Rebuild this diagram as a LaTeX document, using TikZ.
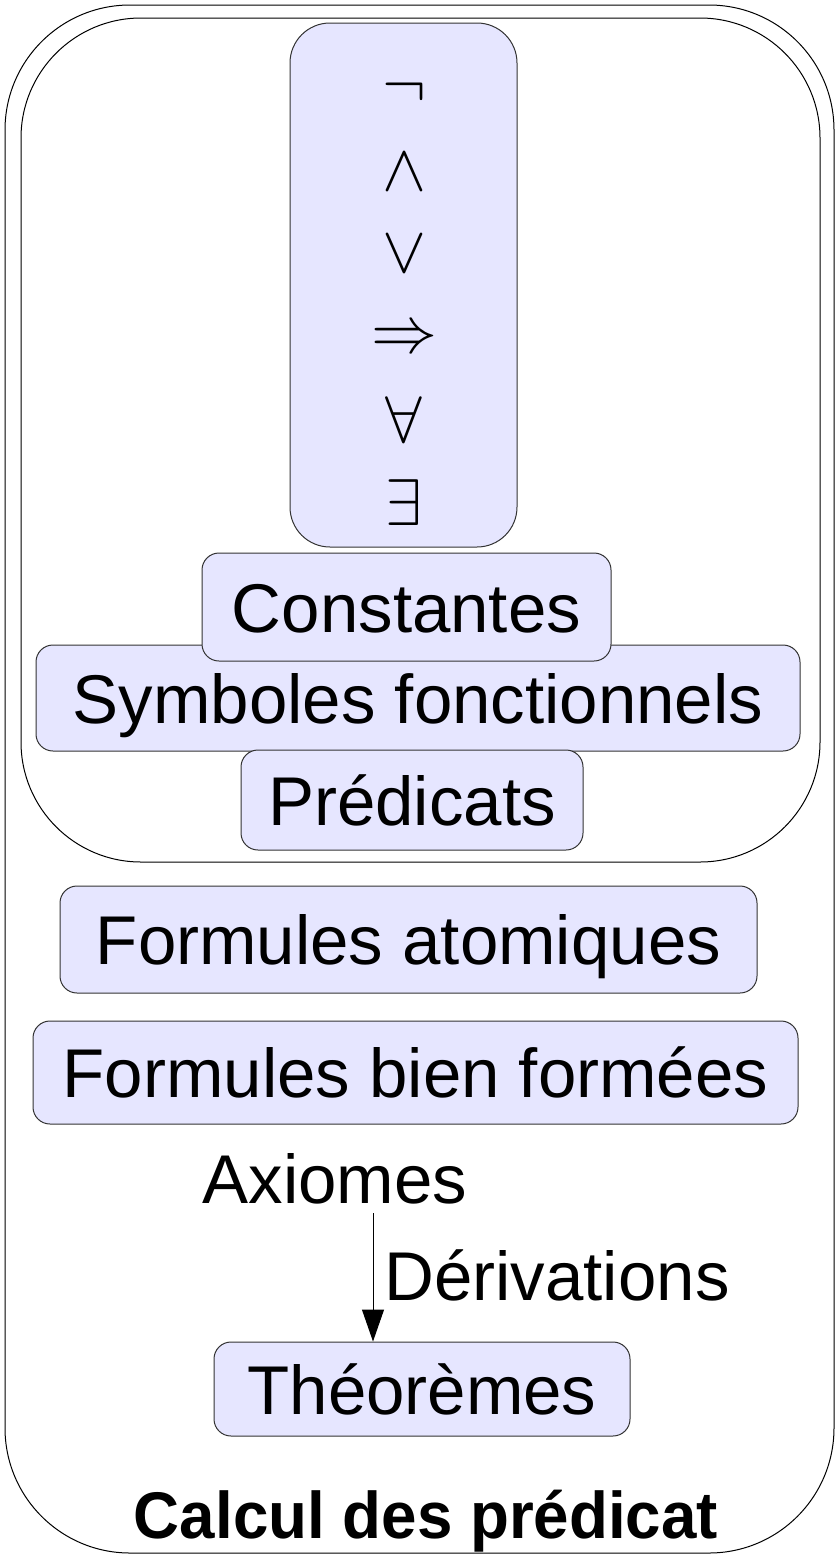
\documentclass[tikz,border=0pt]{standalone}
\usepackage{fontspec}
\setmainfont{Liberation Sans}
\usetikzlibrary{arrows.meta}
\definecolor{boxfill}{HTML}{E6E6FF}
\definecolor{boxline}{HTML}{333333}
\newcommand{\bigsym}[1]{\scalebox{6.6}{$#1$}}
\tikzset{
  frame/.style={draw=black, line width=1pt, rounded corners=125pt},
  pbox/.style={draw=boxline, fill=boxfill, line width=1pt, rounded corners=17pt,
    inner sep=0pt, text height=50pt, text depth=0pt,
    font=\fontsize{69}{80}\selectfont},
  plain/.style={inner sep=0pt, text height=50pt, text depth=0pt,
    font=\fontsize{69}{80}\selectfont},
  sym/.style={inner sep=0pt},
  link/.style={line width=1pt, -{Triangle[length=32pt,width=22pt]}}
}
\begin{document}
\begin{tikzpicture}[x=1pt,y=-1pt]
\useasboundingbox (0,0) rectangle (837,1558);
% outer and inner frames
\draw[frame] (5,5) rectangle (834,1553);
\draw[frame, rounded corners=120pt] (21,18) rectangle (820,862);
% operators box
\node[pbox, rounded corners=40pt, minimum width=227pt, minimum height=524pt] (ops) at (403.5,285) {};
\node[sym] (s1) at (404,92) {\bigsym{\neg}};
\node[sym] (s2) at (404,172) {\bigsym{\wedge}};
\node[sym] (s3) at (404,254) {\bigsym{\vee}};
\node[sym] (s4) at (404,340) {\bigsym{\Rightarrow}};
\node[sym] (s5) at (404,420) {\bigsym{\forall}};
\node[sym] (s6) at (404,503) {\bigsym{\exists}};
% boxes
\node[pbox, minimum width=764pt, minimum height=106pt] (sym) at (418,698) {Symboles fonctionnels};
\node[pbox, minimum width=409pt, minimum height=108pt] (const) at (406.5,607) {Constantes};
\node[pbox, minimum width=342pt, minimum height=100pt] (pred) at (412,800) {Prédicats};
\node[pbox, minimum width=697pt, minimum height=107pt] (atom) at (408.5,939.5) {Formules atomiques};
\node[pbox, minimum width=765pt, minimum height=103pt] (fbf) at (415.5,1072.5) {Formules bien formées};
\node[plain] (axiomes) at (335,1178) {Axiomes};
\node[pbox, minimum width=416pt, minimum height=94pt] (thm) at (422,1389) {Théorèmes};
\coordinate (a1) at (373,1213);
\draw[link] (a1) -- (a1 |- thm.north);
\node[plain] (deriv) at (557,1275) {Dérivations};
\node[inner sep=0pt, text height=50pt, text depth=0pt] (title) at (426,1513)
  {\fontsize{66}{76}\selectfont\bfseries\scalebox{0.965}[1]{Calcul des prédicat}};
\end{tikzpicture}
\end{document}
